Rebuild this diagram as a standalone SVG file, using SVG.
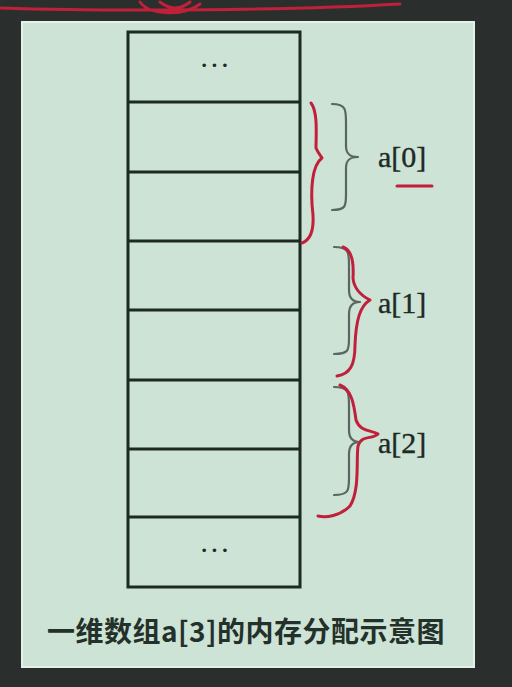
<svg xmlns="http://www.w3.org/2000/svg" width="512" height="687" viewBox="0 0 512 687">
<defs>
<style>
.cell{fill:none;stroke:#1c2a22;stroke-width:3}
.gb{fill:none;stroke:#5a6660;stroke-width:2.2;stroke-linecap:round;stroke-linejoin:round}
.rd{fill:none;stroke:#c0203a;stroke-width:3;stroke-linecap:round;stroke-linejoin:round}
.lbl{font-family:"Liberation Serif",serif;font-size:30px;fill:#1e2a24;stroke:#1e2a24;stroke-width:0.4}
.dots{font-family:"Liberation Serif",serif;font-size:22px;fill:#1e2a24;font-weight:bold;letter-spacing:3px}
.cap{font-family:"Noto Sans CJK SC","Noto Sans",sans-serif;font-size:28px;font-weight:bold;fill:#24302a;letter-spacing:0.5px}
</style>
</defs>
<rect width="512" height="687" fill="#2a2f2d"/>
<path class="rd" d="M0 8 C120 12 300 10 400 4 M140 2 C150 16 185 16 200 4 M160 2 C170 10 180 10 190 2"/>
<rect x="22" y="22" width="452" height="645" fill="#cde3d6" stroke="#e4f0ea" stroke-width="2"/>
<g id="memory">
<rect class="cell" x="128" y="32" width="172" height="555"/>
<path class="cell" d="M128 102H300M128 172H300M128 241H300M128 310H300M128 380H300M128 449H300M128 517H300"/>
<text class="dots" x="216" y="72" text-anchor="middle">···</text>
<text class="dots" x="216" y="557" text-anchor="middle">···</text>
</g>
<g id="a0">
<path class="gb" d="M332 104 C346 104 346 110 346 122 L346 146 C346 154 350 157 358 157 C350 157 346 160 346 168 L346 194 C346 206 346 210 332 210"/>
<text class="lbl" x="378" y="167">a[0]</text>
</g>
<g id="a1">
<path class="gb" d="M334 247 C349 247 349 253 349 265 L349 290 C349 298 353 302 360 302 C353 302 349 306 349 314 L349 338 C349 350 349 354 334 354"/>
<text class="lbl" x="378" y="313">a[1]</text>
</g>
<g id="a2">
<path class="gb" d="M334 387 C349 387 349 393 349 405 L349 430 C349 438 353 442 360 442 C353 442 349 446 349 454 L349 478 C349 490 349 495 334 495"/>
<text class="lbl" x="378" y="453">a[2]</text>
</g>
<g id="annotations">
<path class="rd" d="M311 103 C318 112 316 135 316 148 C318 153 321 156 322 158 C312 165 310 190 313 215 C314 232 310 240 302 243"/>
<path class="rd" d="M397 186 L432 186"/>
<path class="rd" d="M343 247 C352 250 354 262 353 278 C354 290 362 296 370 300 C360 306 356 320 355 345 C355 365 350 374 337 376"/>
<path class="rd" d="M340 385 C352 390 354 405 356 420 C360 432 372 430 378 434 C372 440 362 434 358 446 C356 460 360 490 350 506 C340 516 326 518 318 516"/>
</g>
<text class="cap" x="246" y="642" text-anchor="middle">一维数组a[3]的内存分配示意图</text>
</svg>
